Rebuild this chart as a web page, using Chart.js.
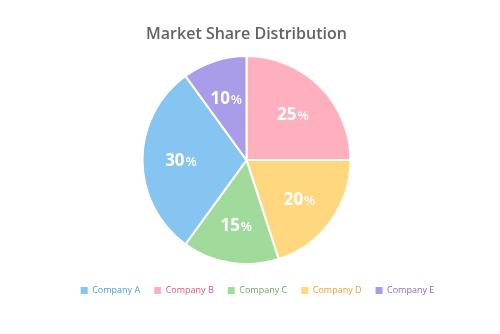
<!DOCTYPE html>
<html>
<head>
<meta charset="utf-8">
<script src="https://cdn.jsdelivr.net/npm/chart.js@4.4.1/dist/chart.umd.min.js"></script>
<style>
html,body{margin:0;padding:0;background:#fff;}
#wrap{width:500px;height:334px;position:relative;}
</style>
</head>
<body>
<div id="wrap"><canvas id="c" width="500" height="334"></canvas></div>
<script>
// Slice order clockwise from 12 o'clock
const categories = ["Company B", "Company D", "Company C", "Company A", "Company E"];
const shares = [25, 20, 15, 30, 10];
const legendOrder = ["Company A", "Company B", "Company C", "Company D", "Company E"];
const sliceColors = {
  "Company A": "#86c4f1",
  "Company B": "#ffb0bf",
  "Company C": "#a1db9b",
  "Company D": "#ffd77f",
  "Company E": "#a99ce8"
};
const legendTextColors = {
  "Company A": "#4d9fdc",
  "Company B": "#e8527a",
  "Company C": "#66ab5e",
  "Company D": "#f59d2c",
  "Company E": "#8c6cc0"
};

const FONT = "'Open Sans', 'Noto Sans', sans-serif";

const sliceLabels = {
  id: 'sliceLabels',
  afterDatasetsDraw(chart) {
    const ctx = chart.ctx;
    const meta = chart.getDatasetMeta(0);
    const ds = chart.data.datasets[0];
    meta.data.forEach((arc, i) => {
      const p = arc.getProps(['x','y','startAngle','endAngle','outerRadius'], true);
      const mid = (p.startAngle + p.endAngle) / 2;
      const r = p.outerRadius * 0.63;
      const cx = p.x + Math.cos(mid) * r;
      const cy = p.y + Math.sin(mid) * r;
      const num = String(ds.data[i]);
      ctx.save();
      ctx.fillStyle = '#ffffff';
      ctx.textBaseline = 'alphabetic';
      ctx.font = "bold 17px " + FONT;
      const w1 = ctx.measureText(num).width;
      ctx.font = "600 13px " + FONT;
      const w2 = ctx.measureText('%').width;
      const x0 = cx - (w1 + w2 + 1) / 2;
      const base = cy + 6;
      ctx.font = "bold 17px " + FONT;
      ctx.fillText(num, x0, base);
      ctx.font = "600 13px " + FONT;
      ctx.fillText('%', x0 + w1 + 1, base);
      ctx.restore();
    });
  }
};

const legendShift = {
  id: 'legendShift',
  afterLayout(chart) {
    const lg = chart.legend;
    if (lg) { lg.left += 11; lg.right += 11; }
  }
};

new Chart(document.getElementById('c'), {
  type: 'pie',
  data: {
    labels: categories,
    datasets: [{
      data: shares,
      backgroundColor: categories.map(c => sliceColors[c]),
      borderColor: '#ffffff',
      borderWidth: 2,
      radius: 104
    }]
  },
  options: {
    responsive: false,
    animation: false,
    layout: { padding: { left: 0, right: 7, top: 0, bottom: 29 } },
    plugins: {
      tooltip: { enabled: false },
      title: {
        display: true,
        text: 'Market Share Distribution',
        color: '#636363',
        font: { family: FONT, size: 16, weight: '600' },
        padding: { top: 25, bottom: 4 }
      },
      legend: {
        position: 'bottom',
        labels: {
          boxWidth: 7,
          boxHeight: 7,
          padding: 14,
          font: { family: FONT, size: 9 },
          sort: (a, b) => legendOrder.indexOf(a.text) - legendOrder.indexOf(b.text),
          generateLabels(chart) {
            const items = Chart.overrides.pie.plugins.legend.labels.generateLabels(chart);
            items.forEach(it => {
              it.fontColor = legendTextColors[it.text];
              it.strokeStyle = it.fillStyle;
              it.lineWidth = 0;
            });
            return items;
          }
        }
      }
    }
  },
  plugins: [sliceLabels, legendShift]
});
</script>
</body>
</html>
